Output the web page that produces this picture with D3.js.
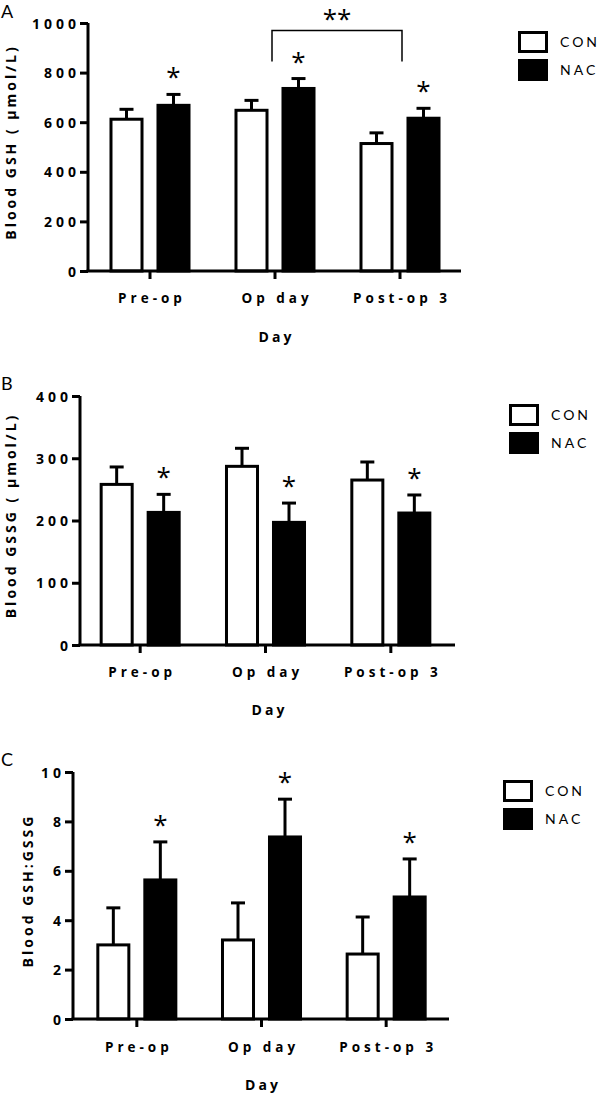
<!DOCTYPE html>
<html><head><meta charset="utf-8">
<script src="https://cdn.jsdelivr.net/npm/d3@7"></script>
<style>
body{margin:0;background:#fff;}
svg{display:block;}
text{font-family:"Open Sans",Lato,sans-serif;fill:#000;}
.tick-lbl{font-weight:bold;font-size:14px;letter-spacing:4px;}
.ax-title{font-weight:bold;font-size:14px;letter-spacing:3px;}
.leg{font-size:14px;letter-spacing:3px;font-family:Lato,"Open Sans",sans-serif;}
.panel-lbl{font-size:18px;font-family:Lato,"Open Sans",sans-serif;}
.star{font-size:26px;font-family:"Open Sans",sans-serif;}
</style></head>
<body>
<script>
// ---- data ----
const days = ["Pre-op", "Op day", "Post-op 3"];
const series = ["CON", "NAC"];

const gshCon = [612, 648, 514];
const gshConErr = [40, 40, 43];
const gshNac = [668, 736, 616];
const gshNacErr = [44, 40, 40];
const gshTicks = [0, 200, 400, 600, 800, 1000];

const gssgCon = [258, 287, 265];
const gssgConErr = [28, 29, 29];
const gssgNac = [213, 197, 212];
const gssgNacErr = [29, 31, 29];
const gssgTicks = [0, 100, 200, 300, 400];

const ratioCon = [3.0, 3.2, 2.63];
const ratioConErr = [1.5, 1.5, 1.5];
const ratioNac = [5.63, 7.37, 4.94];
const ratioNacErr = [1.54, 1.53, 1.54];
const ratioTicks = [0, 2, 4, 6, 8, 10];

const yTitles = ["Blood GSH ( \u03bcmol/L)", "Blood GSSG ( \u03bcmol/L)", "Blood GSH:GSSG"];
const panelLabels = ["A", "B", "C"];
const xTitle = "Day";

// ---- layout ----
const svg = d3.select("body").append("svg").attr("width", 600).attr("height", 1094);

const panels = [
  {lbl: panelLabels[0], lblY: 18, con: gshCon, conE: gshConErr, nac: gshNac, nacE: gshNacErr, ticks: gshTicks,
   max: 1000, axX: 88, axEnd: 461, bandR: [87.5, 462.5], y0: 271, y1: 23, title: yTitles[0], titleX: 16,
   tickLblY: 303, xTitleY: 342, legX: 518, legY: 31, bracket: true},
  {lbl: panelLabels[1], lblY: 390, con: gssgCon, conE: gssgConErr, nac: gssgNac, nacE: gssgNacErr, ticks: gssgTicks,
   max: 400, axX: 80, axEnd: 455, bandR: [77.5, 453.5], y0: 645, y1: 396, title: yTitles[1], titleX: 16,
   tickLblY: 677, xTitleY: 715, legX: 509, legY: 404},
  {lbl: panelLabels[2], lblY: 766, con: ratioCon, conE: ratioConErr, nac: ratioNac, nacE: ratioNacErr, ticks: ratioTicks,
   max: 10, axX: 73, axEnd: 449, bandR: [74.5, 448.5], y0: 1019, y1: 772, title: yTitles[2], titleX: 33,
   tickLblY: 1052, xTitleY: 1090, legX: 503, legY: 780}
];

panels.forEach(p => {
  const g = svg.append("g");
  const x0 = d3.scaleBand().domain(days).range(p.bandR).paddingInner(0).paddingOuter(0);
  const x1 = d3.scaleBand().domain(series).range([-47, 47]).paddingInner(0.34).paddingOuter(0.17);
  const y = d3.scaleLinear().domain([0, p.max]).range([p.y0, p.y1]);
  const vals = {CON: p.con, NAC: p.nac};
  const errs = {CON: p.conE, NAC: p.nacE};

  g.append("text").attr("class", "panel-lbl").attr("x", 1).attr("y", p.lblY).text(p.lbl);

  series.forEach(s => {
    days.forEach((d, i) => {
      const cx = x0(d) + x0.bandwidth() / 2 + x1(s);
      const bw = x1.bandwidth();
      const v = vals[s][i], e = errs[s][i];
      const mid = cx + bw / 2;
      g.append("line").attr("x1", mid).attr("x2", mid).attr("y1", y(v)).attr("y2", y(v + e))
        .attr("stroke", "#000").attr("stroke-width", 3);
      g.append("line").attr("x1", mid - 7).attr("x2", mid + 7).attr("y1", y(v + e)).attr("y2", y(v + e))
        .attr("stroke", "#000").attr("stroke-width", 3);
      g.append("rect").attr("x", cx).attr("width", bw).attr("y", y(v)).attr("height", y(0) - y(v))
        .attr("fill", s === "CON" ? "#fff" : "#000").attr("stroke", "#000").attr("stroke-width", 3);
      if (s === "NAC") {
        g.append("text").attr("class", "star").attr("x", mid).attr("y", y(v + e) - 8)
          .attr("text-anchor", "middle").text("*");
      }
    });
  });

  // y axis
  const yAxis = d3.axisLeft(y).tickValues(p.ticks).tickSize(8).tickSizeOuter(0).tickFormat(d3.format("d"));
  const ya = g.append("g").attr("transform", `translate(${p.axX},0)`).call(yAxis);
  ya.attr("font-family", null).attr("font-size", null);
  ya.select(".domain").attr("stroke-width", 3).attr("d", `M0,${p.y0}V${p.y1}`);
  ya.selectAll(".tick line").attr("stroke-width", 3);
  ya.selectAll(".tick text").attr("class", "tick-lbl").attr("x", -8).attr("dy", "0.36em");

  // x axis
  const xAxis = d3.axisBottom(x0).tickSize(8).tickSizeOuter(0);
  const xa = g.append("g").attr("transform", `translate(0,${p.y0})`).call(xAxis);
  xa.attr("font-family", null).attr("font-size", null);
  xa.select(".domain").attr("stroke-width", 3).attr("d", `M${p.axX - 1.5},0H${p.axEnd}`);
  xa.selectAll(".tick line").attr("stroke-width", 3);
  xa.selectAll(".tick text").attr("class", "tick-lbl").attr("y", p.tickLblY - p.y0).attr("dy", 0)
    .attr("dx", "2px").style("font-size", "13.5px");

  // axis titles
  g.append("text").attr("class", "ax-title").attr("text-anchor", "middle")
    .attr("x", (p.axX + p.axEnd) / 2 + 2).attr("y", p.xTitleY).text(xTitle);
  g.append("text").attr("class", "ax-title").attr("text-anchor", "middle")
    .attr("transform", `translate(${p.titleX},${(p.y0 + p.y1) / 2 - 5}) rotate(-90)`).text(p.title);

  // legend
  series.forEach((s, i) => {
    const ly = p.legY + i * 28;
    g.append("rect").attr("x", p.legX + 1.5).attr("y", ly + 1.5).attr("width", 27).attr("height", 19)
      .attr("fill", s === "CON" ? "#fff" : "#000").attr("stroke", "#000").attr("stroke-width", 3);
    g.append("text").attr("class", "leg").attr("x", p.legX + 42).attr("y", ly + 16).text(s);
  });

  // significance bracket
  if (p.bracket) {
    const xa1 = x0(days[1]) + x0.bandwidth() / 2 - 3;
    const xa2 = x0(days[2]) + x0.bandwidth() / 2 + 2;
    const yb = y(970), yl = y(845);
    g.append("path").attr("d", `M${xa1},${yl}V${yb}H${xa2}V${yl}`)
      .attr("fill", "none").attr("stroke", "#000").attr("stroke-width", 1.5);
    g.append("text").attr("class", "star").attr("x", (xa1 + xa2) / 2).attr("y", yb - 2)
      .attr("text-anchor", "middle").text("**");
  }
});
</script>
</body></html>
